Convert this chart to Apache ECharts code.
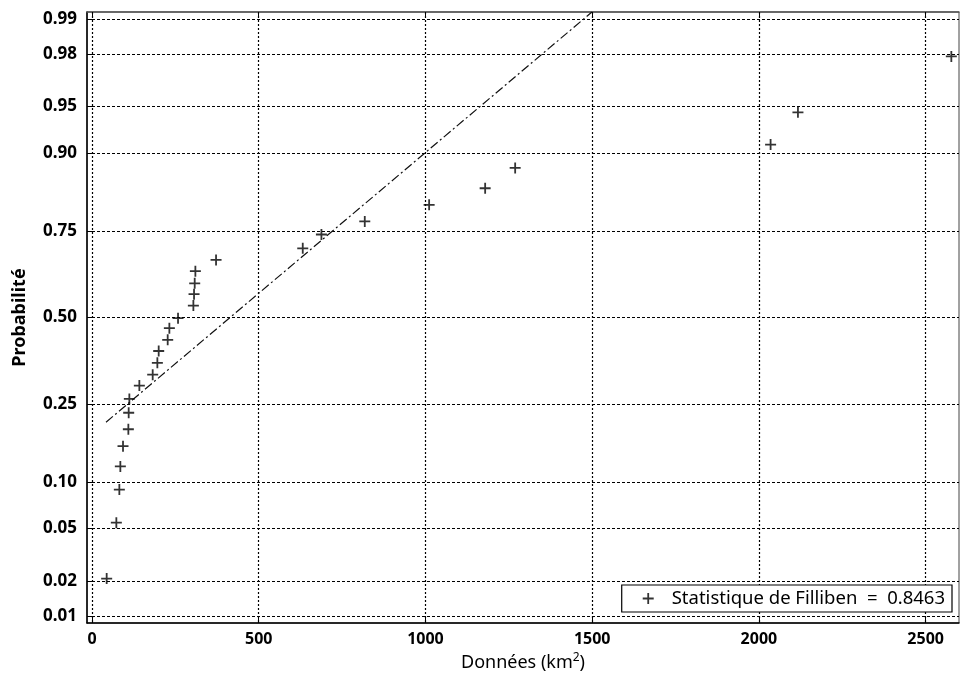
<!DOCTYPE html>
<html>
<head>
<meta charset="utf-8">
<script src="https://cdn.jsdelivr.net/npm/echarts@6/dist/echarts.min.js"></script>
<style>
  html, body { margin: 0; background: #fff; }
  #chart { width: 961px; height: 678px; }
</style>
</head>
<body>
<div id="chart"></div>
<script>
// x axis ticks (km2)
var xTicks = [0, 500, 1000, 1500, 2000, 2500];
// probability ticks on the normal scale
var probTicks = [0.01, 0.02, 0.05, 0.10, 0.25, 0.50, 0.75, 0.90, 0.95, 0.98, 0.99];
var probLabels = ['0.01', '0.02', '0.05', '0.10', '0.25', '0.50', '0.75', '0.90', '0.95', '0.98', '0.99'];

// observed areas and their plotting probabilities
var areas = [44, 73, 82, 85, 93, 109, 110, 112, 142, 182, 196, 200, 227, 232, 258,
             304, 306, 308, 310, 372, 632, 688, 818, 1011, 1179, 1269, 2035, 2117, 2577];
var probs = [0.021, 0.055, 0.090, 0.123, 0.158, 0.192, 0.229, 0.263, 0.298, 0.328, 0.362,
             0.397, 0.431, 0.467, 0.498, 0.537, 0.572, 0.605, 0.641, 0.673, 0.705, 0.741,
             0.773, 0.810, 0.843, 0.878, 0.911, 0.945, 0.979];

// fitted normal law (dash-dot line)
var fitMean = 414;
var fitSd = 456;
var fitRange = [42, 1500];

var fillibenName = 'Statistique de Filliben  =  0.8463';

// inverse of the standard normal cdf (Acklam)
function normInv(p) {
  var a = [-3.969683028665376e+01, 2.209460984245205e+02, -2.759285104469687e+02, 1.383577518672690e+02, -3.066479806614716e+01, 2.506628277459239e+00];
  var b = [-5.447609879822406e+01, 1.615858368580409e+02, -1.556989798598866e+02, 6.680131188771972e+01, -1.328068155288572e+01];
  var c = [-7.784894002430293e-03, -3.223964580411365e-01, -2.400758277161838e+00, -2.549732539343734e+00, 4.374664141464968e+00, 2.938163982698783e+00];
  var d = [7.784695709041462e-03, 3.224671290700398e-01, 2.445134137142996e+00, 3.754408661907416e+00];
  var pl = 0.02425, q, r;
  if (p < pl) {
    q = Math.sqrt(-2 * Math.log(p));
    return (((((c[0]*q+c[1])*q+c[2])*q+c[3])*q+c[4])*q+c[5]) / ((((d[0]*q+d[1])*q+d[2])*q+d[3])*q+1);
  }
  if (p > 1 - pl) {
    q = Math.sqrt(-2 * Math.log(1 - p));
    return -(((((c[0]*q+c[1])*q+c[2])*q+c[3])*q+c[4])*q+c[5]) / ((((d[0]*q+d[1])*q+d[2])*q+d[3])*q+1);
  }
  q = p - 0.5; r = q * q;
  return (((((a[0]*r+a[1])*r+a[2])*r+a[3])*r+a[4])*r+a[5])*q / (((((b[0]*r+b[1])*r+b[2])*r+b[3])*r+b[4])*r+1);
}

var yTickZ = probTicks.map(normInv);
var points = areas.map(function (x, i) { return [x, normInv(probs[i])]; });
var fitLine = fitRange.map(function (x) { return [x, (x - fitMean) / fitSd]; });

var plusPath = 'path://M4.6,0H6.4V4.6H11V6.4H6.4V11H4.6V6.4H0V4.6H4.6Z';
var font = 'Noto Sans';

var option = {
  backgroundColor: '#fff',
  animation: false,
  grid: {
    left: 87, right: 2, top: 12, bottom: 55,
    show: true, borderColor: '#444', borderWidth: 1, backgroundColor: 'transparent'
  },
  legend: {
    data: [{ name: fillibenName, icon: plusPath }],
    right: 9, bottom: 66,
    backgroundColor: '#fff', borderColor: '#000', borderWidth: 1.2,
    padding: [4, 7, 4, 21],
    itemWidth: 11, itemHeight: 11,
    textStyle: { fontFamily: font, fontSize: 18.5, color: '#000', padding: [0, 0, 0, 13] }
  },
  xAxis: [{
    type: 'value', min: -15, max: 2600,
    name: 'Données (km{sup|2})',
    nameLocation: 'middle', nameGap: 29,
    nameTextStyle: {
      fontFamily: font, fontSize: 18, color: '#000',
      rich: { sup: { fontFamily: font, fontSize: 12, color: '#000', verticalAlign: 'top', padding: [0, 0, 10, 0] } }
    },
    axisLine: { show: true, onZero: false, lineStyle: { color: '#000', width: 1.5 } },
    axisTick: { show: true, inside: true, length: 5, customValues: xTicks, lineStyle: { color: '#000' } },
    axisLabel: {
      customValues: xTicks, margin: 8, fontFamily: font, fontSize: 16, fontWeight: 'bold', color: '#000',
      formatter: function (v) { return String(v); }
    },
    splitLine: { show: true, lineStyle: { color: '#000', type: [2, 2], width: 1.2 } }
  }, {
    type: 'value', min: -15, max: 2600, position: 'top',
    axisLine: { show: true, onZero: false, lineStyle: { color: '#555', width: 1.5 } },
    axisTick: { show: true, inside: true, length: 5, customValues: xTicks, lineStyle: { color: '#000' } },
    axisLabel: { show: false },
    splitLine: { show: false }
  }],
  yAxis: {
    type: 'value', min: -2.38, max: 2.38,
    name: 'Probabilité',
    nameLocation: 'middle', nameGap: 58,
    nameTextStyle: { fontFamily: font, fontSize: 18, fontWeight: 'bold', color: '#000' },
    axisLine: { show: true, onZero: false, lineStyle: { color: '#000', width: 1.5 } },
    axisTick: { show: true, inside: true, length: 5, customValues: yTickZ, lineStyle: { color: '#000' } },
    axisLabel: {
      customValues: yTickZ, margin: 10,
      fontFamily: font, fontSize: 17, fontWeight: 'bold', color: '#000',
      formatter: function (v) {
        var best = 0;
        for (var i = 1; i < yTickZ.length; i++) {
          if (Math.abs(yTickZ[i] - v) < Math.abs(yTickZ[best] - v)) best = i;
        }
        return probLabels[best];
      }
    },
    splitLine: { show: true, lineStyle: { color: '#000', type: [3, 2], width: 1.2 } }
  },
  series: [{
    name: 'fit',
    type: 'line',
    data: fitLine,
    symbol: 'none',
    silent: true,
    lineStyle: { color: '#111', width: 1.2, type: [9, 3, 2, 3] }
  }, {
    name: fillibenName,
    type: 'scatter',
    data: points,
    symbol: plusPath,
    symbolSize: 11,
    itemStyle: { color: '#000' }
  }]
};

var chart = echarts.init(document.getElementById('chart'), null, { renderer: 'canvas' });
chart.setOption(option);
</script>
</body>
</html>
